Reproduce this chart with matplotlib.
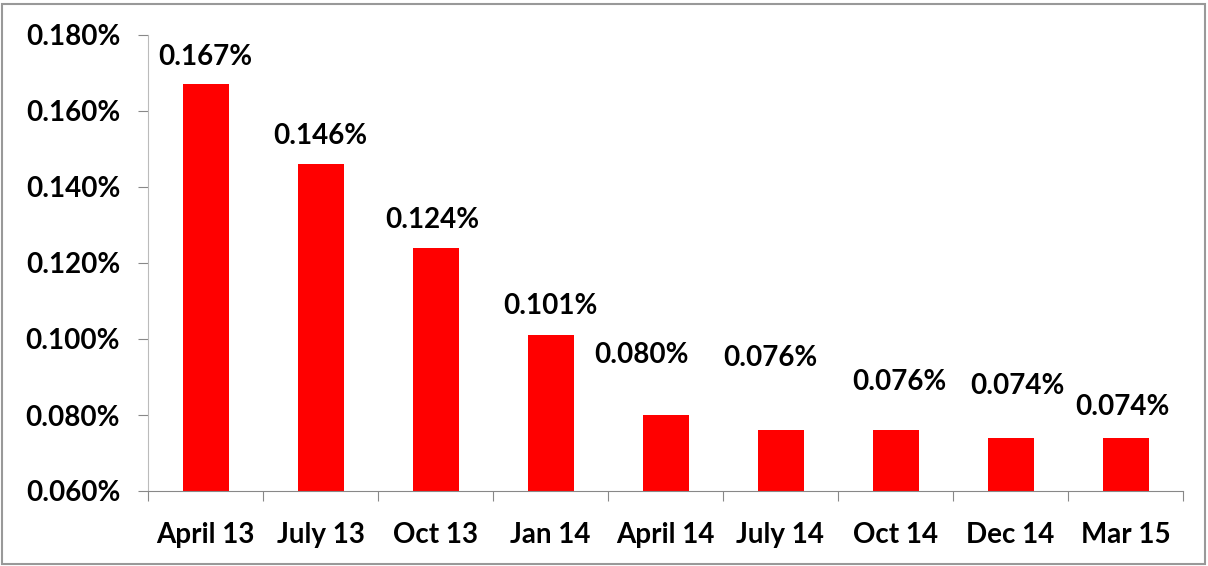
import matplotlib
matplotlib.use("Agg")
import matplotlib.pyplot as plt
from matplotlib.patches import Rectangle
from matplotlib.ticker import FuncFormatter, FixedLocator
import numpy as np

categories = ["April 13", "July 13", "Oct 13", "Jan 14", "April 14",
              "July 14", "Oct 14", "Dec 14", "Mar 15"]
values = [0.167, 0.146, 0.124, 0.101, 0.080, 0.076, 0.076, 0.074, 0.074]
value_labels = ["0.167%", "0.146%", "0.124%", "0.101%", "0.080%",
                "0.076%", "0.076%", "0.074%", "0.074%"]
# label offsets (points) relative to bar top, mimicking manual placement
label_dx = [0, 0, -2, 0, -17, -7, 3, 5, -2]
label_dy = [20, 20, 20, 21, 43, 52, 35, 37, 22]

plt.rcParams['font.family'] = ['Lato', 'DejaVu Sans']
FS = 20

fig = plt.figure(figsize=(12.08, 5.66), dpi=100)
ax = fig.add_axes([148/1208, 1-491/566, (1183-148)/1208, (491-35)/566])

x = np.arange(len(categories))
ax.bar(x, values, width=0.4, color="#FF0000", zorder=2)

ax.set_xlim(-0.5, len(categories) - 0.5)
ax.set_ylim(0.060, 0.180)
ax.set_yticks(np.arange(0.060, 0.1801, 0.020))
ax.yaxis.set_major_formatter(FuncFormatter(lambda v, p: f"{v:.3f}%"))

ax.xaxis.set_major_locator(FixedLocator(np.arange(-0.5, len(categories), 1.0)))
ax.xaxis.set_major_formatter(FuncFormatter(lambda v, p: ""))
ax.set_xticks(x, minor=True)
ax.set_xticklabels(categories, minor=True)
ax.tick_params(axis="x", which="minor", length=0, pad=22, labelsize=FS)
ax.tick_params(axis="x", which="major", length=7, color="#888888", direction="out")
ax.tick_params(axis="y", length=7, color="#888888", direction="out", pad=13, labelsize=FS)
for lbl in ax.get_xticklabels(minor=True) + ax.get_yticklabels():
    lbl.set_fontweight("bold")

for s in ["top", "right"]:
    ax.spines[s].set_visible(False)
ax.spines["left"].set_color("#BBBBBB")
ax.spines["bottom"].set_color("#888888")

for xi, v, t, dx, dy in zip(x, values, value_labels, label_dx, label_dy):
    ax.annotate(t, (xi, v), xytext=(dx, dy), textcoords="offset points",
                ha="center", va="center", fontsize=FS, fontweight="bold")

fig.patches.append(Rectangle((2/1208, 2/566), 1203/1208, 560/566,
                             transform=fig.transFigure, fill=False,
                             edgecolor="#999999", linewidth=1.5))

fig.savefig("out.png", dpi=100)
